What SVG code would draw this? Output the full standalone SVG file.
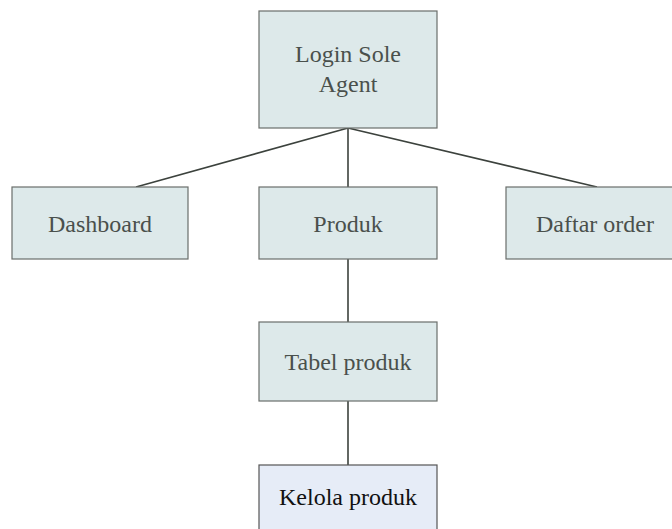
<svg xmlns="http://www.w3.org/2000/svg" width="672" height="529" viewBox="0 0 672 529">
  <style>
    .box { fill: #dde9ea; stroke: #6a6e6b; stroke-width: 1.2; }
    .box2 { fill: #e6ecf7; stroke: #555; stroke-width: 1.2; }
    .lbl { font-family: "Liberation Serif", "Times New Roman", serif; font-size: 24px; fill: #4a504c; text-anchor: middle; }
    .lbl2 { font-family: "Liberation Serif", "Times New Roman", serif; font-size: 24px; fill: #111; text-anchor: middle; }
    .conn { stroke: #3c423d; stroke-width: 1.6; fill: none; }
  </style>
  <rect x="0" y="0" width="672" height="529" fill="#ffffff"/>
  <g id="connectors">
    <line class="conn" x1="348" y1="128" x2="136" y2="187"/>
    <line class="conn" x1="348" y1="128" x2="348" y2="187"/>
    <line class="conn" x1="348" y1="128" x2="597" y2="187"/>
    <line class="conn" x1="348" y1="259" x2="348" y2="322"/>
    <line class="conn" x1="348" y1="401" x2="348" y2="465"/>
  </g>
  <g id="login">
    <rect class="box" x="259" y="11" width="178" height="117"/>
    <text class="lbl" x="348" y="62">Login Sole</text>
    <text class="lbl" x="348" y="92">Agent</text>
  </g>
  <g id="dashboard">
    <rect class="box" x="12" y="187" width="176" height="72"/>
    <text class="lbl" x="100" y="232">Dashboard</text>
  </g>
  <g id="produk">
    <rect class="box" x="259" y="187" width="178" height="72"/>
    <text class="lbl" x="348" y="232">Produk</text>
  </g>
  <g id="daftar-order">
    <rect class="box" x="506" y="187" width="178" height="72"/>
    <text class="lbl" x="595" y="232">Daftar order</text>
  </g>
  <g id="tabel-produk">
    <rect class="box" x="259" y="322" width="178" height="79"/>
    <text class="lbl" x="348" y="370">Tabel produk</text>
  </g>
  <g id="kelola-produk">
    <rect class="box2" x="259" y="465" width="178" height="72"/>
    <text class="lbl2" x="348" y="505">Kelola produk</text>
  </g>
</svg>
